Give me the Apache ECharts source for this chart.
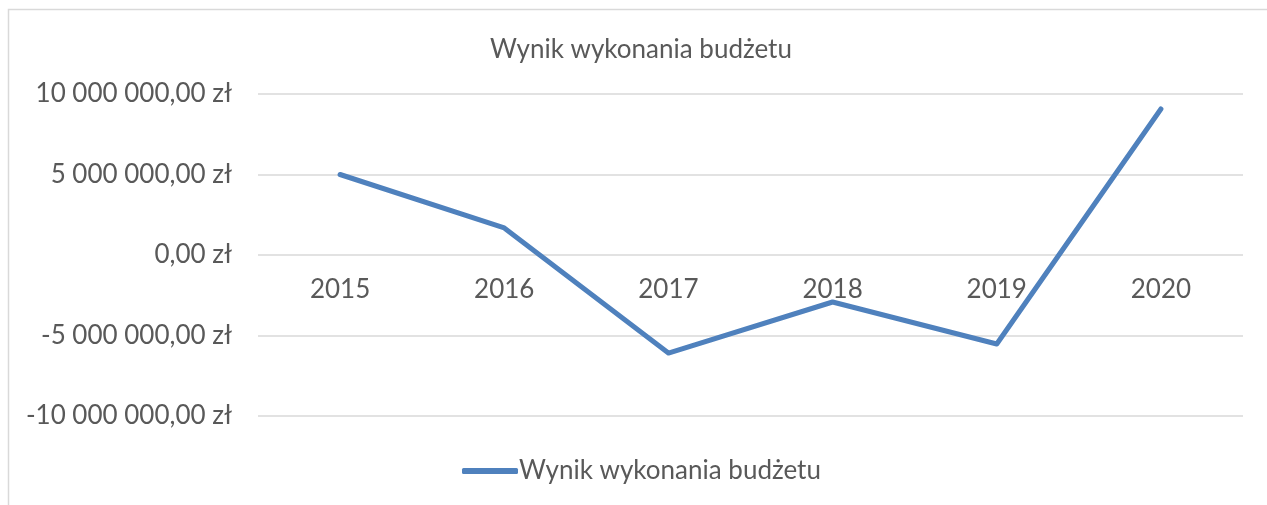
<!DOCTYPE html>
<html>
<head>
<meta charset="utf-8">
<script src="https://cdn.jsdelivr.net/npm/echarts@6/dist/echarts.min.js"></script>
<style>
  html, body { margin: 0; padding: 0; background: #fff; }
  #main { width: 1267px; height: 505px; }
</style>
</head>
<body>
<div id="main"></div>
<script>
var years = ['2015', '2016', '2017', '2018', '2019', '2020'];
var wynik = [5000000, 1680000, -6090000, -2920000, -5530000, 9070000];
var seriesName = 'Wynik wykonania budżetu';

function fmtZl(v) {
    var neg = v < 0;
    var s = Math.abs(v).toFixed(2).split('.');
    var intPart = s[0].replace(/\B(?=(\d{3})+(?!\d))/g, ' ');
    return (neg ? '-' : '') + intPart + ',' + s[1] + ' zł';
}

var chart = echarts.init(document.getElementById('main'));
chart.setOption({
    backgroundColor: '#fff',
    textStyle: { fontFamily: 'Lato' },
    graphic: [
        {
            type: 'polyline',
            shape: { points: [[8.5, 505], [8.5, 9.5], [1267, 9.5]] },
            style: { stroke: '#d9d9d9', lineWidth: 1.5, fill: null }
        }
    ],
    title: {
        text: seriesName,
        left: 485,
        top: 32,
        textStyle: { fontFamily: 'Lato', fontSize: 26, fontWeight: 'normal', color: '#595959' }
    },
    legend: {
        data: [seriesName],
        bottom: 16,
        left: 457,
        itemWidth: 56,
        itemHeight: 6,
        itemGap: 6,
        icon: 'roundRect',
        textStyle: { fontFamily: 'Lato', fontSize: 26, color: '#595959', padding: [0, 0, 0, -4] }
    },
    grid: { left: 258, right: 24, top: 94, bottom: 89, containLabel: false },
    xAxis: {
        type: 'category',
        data: years,
        // oś kategorii przy linii zera
        offset: -161,
        axisLine: { show: false },
        axisTick: { show: false },
        axisLabel: { fontFamily: 'Lato', fontSize: 26, color: '#595959', margin: 22 }
    },
    yAxis: {
        type: 'value',
        min: -10000000,
        max: 10000000,
        interval: 5000000,
        axisLine: { show: false },
        axisTick: { show: false },
        splitLine: { lineStyle: { color: '#d9d9d9', width: 1.5 } },
        axisLabel: {
            fontFamily: 'Lato', fontSize: 26, color: '#595959', margin: 26,
            formatter: fmtZl
        }
    },
    series: [
        {
            name: seriesName,
            type: 'line',
            data: wynik,
            symbol: 'none',
            lineStyle: { color: '#4f81bd', width: 5, cap: 'round', join: 'round' },
            itemStyle: { color: '#4f81bd' }
        }
    ]
});
</script>
</body>
</html>
